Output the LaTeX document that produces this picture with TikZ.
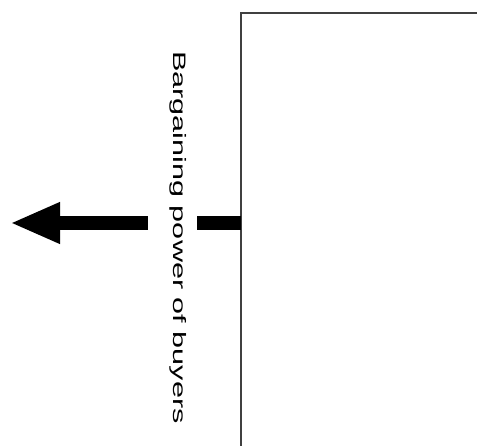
\documentclass[tikz,border=0pt]{standalone}
\usepackage{fontspec}
\setmainfont{Liberation Sans}
\usetikzlibrary{arrows.meta}
\tikzset{
	force/.style={line width=14pt, -{Triangle[length=50pt,width=38pt]}},
	forcelabel/.style={fill=white, rotate=-90, anchor=base, inner xsep=0pt, inner ysep=12pt, text height=12pt, text depth=13pt, font=\fontsize{18pt}{21pt}\selectfont}
}

\begin{document}
\begin{tikzpicture}[x=1pt, y=-1pt]
		%%%%% START %%%%%
		\useasboundingbox (0, 0) rectangle (477, 446);
		
		\draw[line width=1.3pt, black!75] (477, 13) -- (241, 13) -- (241, 446);
		
		\coordinate (buyers) at (241, 223);
		\coordinate (tip) at (10, 223);
		\draw[force] (buyers) -- (tip);
		
		\node[forcelabel] (power) at (173, 237.5) {\scalebox{1.7}[1]{Bargaining power of buyers}};
		%%%%% END %%%%%
	\end{tikzpicture}
\end{document}
